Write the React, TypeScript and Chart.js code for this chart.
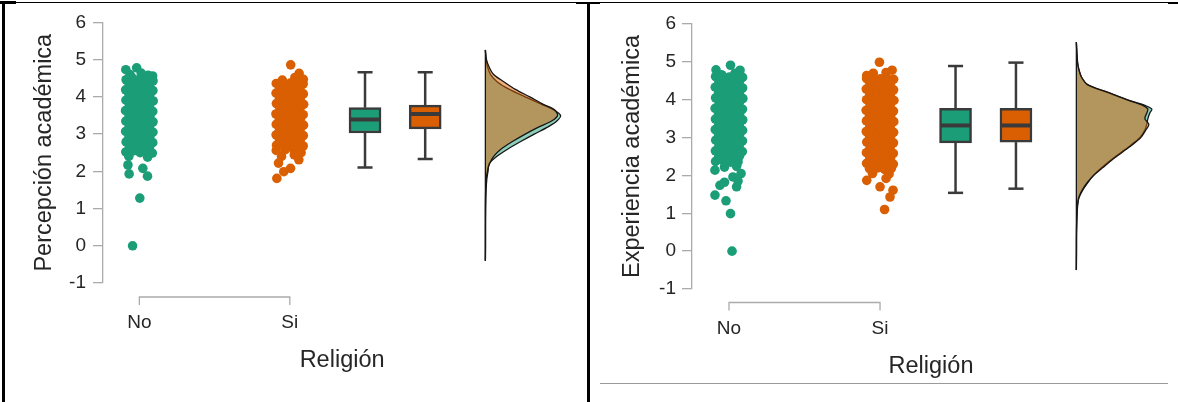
import { useEffect, useRef } from "react";
import { Chart, registerables } from "chart.js";

Chart.register(...registerables);

const FONT = "'Liberation Sans', Arial, Helvetica, sans-serif";
const GREEN = "#1B9E77";
const ORANGE = "#D95F02";
const GREEN_FILL = "rgba(27, 158, 119, 0.5)";
const ORANGE_FILL = "rgba(217, 95, 2, 0.5)";
const BOX_EDGE = "#3a3a3a";
const AXIS_GRAY = "#ababab";
const TEXT = "#262626";
const COLORS = [GREEN, ORANGE];
const FILLS = [GREEN_FILL, ORANGE_FILL];

const categories = ["No", "Si"];
const xTitle = "Religión";
const yTicks = [-1, 0, 1, 2, 3, 4, 5, 6];

// positions on the linear x axis
const STRIP_X = [1, 2];
const BOX_X = [2.5, 2.9];
const DENSITY_BASE_X = 3.3;
const DENSITY_WIDTH = 0.5;
const CAP_HALF = 0.05;
const MEDIAN_HALF = 0.096;

// ---- Percepción académica: jittered observations [jitter, value] ----
const percepcionNo: [number, number][] = [
  [-0.090, 4.73], [-0.018, 4.78], [0.012, 4.64], [0.088, 4.56], [0.058, 4.58], [-0.062, 4.60],
  [-0.088, 4.46], [-0.045, 4.50], [0.002, 4.47], [0.046, 4.44], [0.091, 4.43],
  [-0.067, 4.33], [-0.021, 4.35], [0.024, 4.31], [0.069, 4.34],
  [-0.091, 4.19], [-0.044, 4.21], [0.001, 4.18], [0.047, 4.20], [0.090, 4.17],
  [-0.069, 4.05], [-0.023, 4.07], [0.022, 4.04], [0.070, 4.06],
  [-0.089, 3.91], [-0.046, 3.93], [0.003, 3.90], [0.045, 3.92], [0.092, 3.89],
  [-0.066, 3.77], [-0.024, 3.79], [0.025, 3.76], [0.068, 3.78],
  [-0.092, 3.63], [-0.043, 3.65], [-0.001, 3.62], [0.044, 3.64], [0.089, 3.61],
  [-0.068, 3.49], [-0.020, 3.51], [0.023, 3.48], [0.071, 3.50],
  [-0.090, 3.35], [-0.047, 3.37], [0.002, 3.34], [0.046, 3.36], [0.091, 3.33],
  [-0.067, 3.21], [-0.022, 3.23], [0.026, 3.20], [0.069, 3.22],
  [-0.091, 3.07], [-0.044, 3.09], [0.000, 3.06], [0.043, 3.08], [0.090, 3.05],
  [-0.069, 2.93], [-0.021, 2.95], [0.024, 2.92], [0.070, 2.94],
  [-0.088, 2.79], [-0.046, 2.81], [0.004, 2.78], [0.047, 2.80], [0.089, 2.77],
  [-0.066, 2.65], [-0.023, 2.67], [0.022, 2.64], [0.068, 2.66],
  [-0.090, 2.52], [-0.040, 2.55], [0.005, 2.50], [0.050, 2.53], [0.086, 2.49],
  [-0.070, 2.40], [0.055, 2.38], [-0.076, 2.17], [0.023, 2.08],
  [-0.068, 1.93], [0.054, 1.87], [0.003, 1.28], [-0.045, 0.0],
];

const percepcionSi: [number, number][] = [
  [0.006, 4.86], [0.062, 4.63], [0.090, 4.47], [0.034, 4.52], [-0.050, 4.45],
  [-0.090, 4.36], [-0.044, 4.39], [0.003, 4.37], [0.046, 4.40], [0.089, 4.35],
  [-0.067, 4.24], [-0.022, 4.26], [0.024, 4.23], [0.069, 4.25],
  [-0.091, 4.10], [-0.045, 4.12], [0.001, 4.09], [0.046, 4.11], [0.090, 4.08],
  [-0.068, 3.96], [-0.021, 3.98], [0.023, 3.95], [0.070, 3.97],
  [-0.089, 3.82], [-0.046, 3.84], [0.002, 3.81], [0.044, 3.83], [0.092, 3.80],
  [-0.066, 3.68], [-0.024, 3.70], [0.025, 3.67], [0.068, 3.69],
  [-0.092, 3.54], [-0.043, 3.56], [-0.001, 3.53], [0.045, 3.55], [0.089, 3.52],
  [-0.069, 3.40], [-0.020, 3.42], [0.022, 3.39], [0.071, 3.41],
  [-0.090, 3.26], [-0.047, 3.28], [0.003, 3.25], [0.046, 3.27], [0.091, 3.24],
  [-0.067, 3.12], [-0.022, 3.14], [0.026, 3.11], [0.069, 3.13],
  [-0.091, 2.98], [-0.044, 3.00], [0.000, 2.97], [0.043, 2.99], [0.090, 2.96],
  [-0.069, 2.84], [-0.021, 2.86], [0.024, 2.83], [0.070, 2.85],
  [-0.088, 2.70], [-0.046, 2.72], [0.004, 2.69], [0.047, 2.71], [0.089, 2.68],
  [-0.090, 2.56], [-0.030, 2.58], [0.030, 2.55], [0.075, 2.50], [0.030, 2.44],
  [-0.055, 2.40], [0.060, 2.31], [-0.075, 2.22], [0.005, 2.08], [-0.040, 1.99], [-0.086, 1.81],
];

// box summaries: [lower whisker, Q1, median, Q3, upper whisker]
const percepcionBoxNo = [2.10, 3.03, 3.39, 3.71, 4.66];
const percepcionBoxSi = [2.33, 3.14, 3.54, 3.78, 4.66];

// kernel density estimates
const percepcionGrid = [-0.4, 0, 0.5, 1.0, 1.5, 1.8, 2.0, 2.2, 2.4, 2.6, 2.8, 3.0, 3.2, 3.35, 3.5, 3.65, 3.8, 4.0, 4.2, 4.4, 4.6, 4.8, 5.0, 5.26];
const percepcionDensNo = [0, 0.003, 0.003, 0.005, 0.01, 0.02, 0.035, 0.05, 0.15, 0.30, 0.47, 0.65, 0.84, 0.95, 1.0, 0.91, 0.75, 0.53, 0.32, 0.16, 0.07, 0.03, 0.01, 0];
const percepcionDensSi = [0, 0, 0, 0, 0.004, 0.013, 0.027, 0.055, 0.11, 0.21, 0.36, 0.53, 0.72, 0.88, 0.96, 0.92, 0.77, 0.59, 0.40, 0.25, 0.11, 0.05, 0.015, 0];

// ---- Experiencia académica ----
const experienciaNo: [number, number][] = [
  [-0.086, 4.79], [0.010, 4.91], [0.073, 4.78], [0.040, 4.70], [-0.050, 4.66],
  [-0.089, 4.61], [-0.044, 4.63], [0.003, 4.60], [0.046, 4.62], [0.090, 4.59],
  [-0.067, 4.47], [-0.022, 4.49], [0.024, 4.46], [0.069, 4.48],
  [-0.091, 4.33], [-0.045, 4.35], [0.001, 4.32], [0.046, 4.34], [0.090, 4.31],
  [-0.068, 4.19], [-0.021, 4.21], [0.023, 4.18], [0.070, 4.20],
  [-0.089, 4.05], [-0.046, 4.07], [0.002, 4.04], [0.044, 4.06], [0.092, 4.03],
  [-0.066, 3.91], [-0.024, 3.93], [0.025, 3.90], [0.068, 3.92],
  [-0.092, 3.77], [-0.043, 3.79], [-0.001, 3.76], [0.045, 3.78], [0.089, 3.75],
  [-0.069, 3.63], [-0.020, 3.65], [0.022, 3.62], [0.071, 3.64],
  [-0.090, 3.49], [-0.047, 3.51], [0.003, 3.48], [0.046, 3.50], [0.091, 3.47],
  [-0.067, 3.35], [-0.022, 3.37], [0.026, 3.34], [0.069, 3.36],
  [-0.091, 3.21], [-0.044, 3.23], [0.000, 3.20], [0.043, 3.22], [0.090, 3.19],
  [-0.069, 3.07], [-0.021, 3.09], [0.024, 3.06], [0.070, 3.08],
  [-0.088, 2.93], [-0.046, 2.95], [0.004, 2.92], [0.047, 2.94], [0.089, 2.91],
  [-0.066, 2.79], [-0.023, 2.81], [0.022, 2.78], [0.068, 2.80],
  [-0.090, 2.65], [-0.045, 2.67], [0.002, 2.64], [0.046, 2.66], [0.088, 2.63],
  [-0.068, 2.51], [-0.020, 2.53], [0.025, 2.50], [0.070, 2.52],
  [-0.089, 2.37], [-0.040, 2.39], [0.010, 2.35], [0.060, 2.36],
  [-0.093, 2.14], [-0.030, 2.22], [0.050, 2.24], [0.026, 1.96], [0.080, 2.05],
  [-0.060, 1.74], [0.050, 1.70], [-0.030, 1.82], [0.060, 1.85],
  [-0.093, 1.48], [-0.020, 1.33], [0.010, 0.99], [0.020, 0.0],
];

const experienciaSi: [number, number][] = [
  [-0.004, 4.99], [0.080, 4.78], [-0.088, 4.64], [0.040, 4.72], [-0.045, 4.70],
  [-0.089, 4.56], [-0.044, 4.58], [0.003, 4.55], [0.046, 4.57], [0.090, 4.54],
  [-0.067, 4.42], [-0.022, 4.44], [0.024, 4.41], [0.069, 4.43],
  [-0.091, 4.28], [-0.045, 4.30], [0.001, 4.27], [0.046, 4.29], [0.090, 4.26],
  [-0.068, 4.14], [-0.021, 4.16], [0.023, 4.13], [0.070, 4.15],
  [-0.089, 4.00], [-0.046, 4.02], [0.002, 3.99], [0.044, 4.01], [0.092, 3.98],
  [-0.066, 3.86], [-0.024, 3.88], [0.025, 3.85], [0.068, 3.87],
  [-0.092, 3.72], [-0.043, 3.74], [-0.001, 3.71], [0.045, 3.73], [0.089, 3.70],
  [-0.069, 3.58], [-0.020, 3.60], [0.022, 3.57], [0.071, 3.59],
  [-0.090, 3.44], [-0.047, 3.46], [0.003, 3.43], [0.046, 3.45], [0.091, 3.42],
  [-0.067, 3.30], [-0.022, 3.32], [0.026, 3.29], [0.069, 3.31],
  [-0.091, 3.16], [-0.044, 3.18], [0.000, 3.15], [0.043, 3.17], [0.090, 3.14],
  [-0.069, 3.02], [-0.021, 3.04], [0.024, 3.01], [0.070, 3.03],
  [-0.088, 2.88], [-0.046, 2.90], [0.004, 2.87], [0.047, 2.89], [0.089, 2.86],
  [-0.066, 2.74], [-0.023, 2.76], [0.022, 2.73], [0.068, 2.75],
  [-0.090, 2.60], [-0.045, 2.62], [0.002, 2.59], [0.046, 2.61], [0.088, 2.58],
  [-0.068, 2.46], [-0.020, 2.48], [0.025, 2.45], [0.070, 2.47],
  [-0.089, 2.32], [-0.044, 2.34], [0.003, 2.31], [0.048, 2.33], [0.088, 2.30],
  [-0.070, 2.18], [-0.015, 2.20], [0.030, 2.16], [0.075, 2.19],
  [-0.050, 2.05], [0.060, 2.04], [0.040, 1.92], [-0.088, 1.87], [0.000, 1.70],
  [0.086, 1.61], [0.066, 1.43], [0.030, 1.10],
];

const experienciaBoxNo = [1.54, 2.86, 3.32, 3.77, 4.89];
const experienciaBoxSi = [1.65, 2.88, 3.32, 3.77, 4.98];

const experienciaGrid = [-0.5, 0, 0.5, 1.0, 1.2, 1.4, 1.6, 1.8, 2.0, 2.2, 2.4, 2.6, 2.8, 3.0, 3.2, 3.35, 3.5, 3.65, 3.75, 3.85, 4.0, 4.2, 4.4, 4.6, 4.8, 5.0, 5.52];
const experienciaDensNo = [0, 0.003, 0.004, 0.011, 0.017, 0.033, 0.08, 0.147, 0.227, 0.333, 0.453, 0.587, 0.72, 0.84, 0.907, 0.933, 0.947, 0.973, 1.0, 0.907, 0.667, 0.4, 0.147, 0.067, 0.033, 0.013, 0];
const experienciaDensSi = [0, 0, 0.001, 0.007, 0.013, 0.029, 0.073, 0.14, 0.227, 0.347, 0.467, 0.6, 0.733, 0.853, 0.92, 0.96, 0.907, 0.933, 0.947, 0.88, 0.667, 0.413, 0.147, 0.067, 0.033, 0.016, 0];

type PanelSpec = {
  yTitle: string;
  strips: [number, number][][];
  boxes: number[][];
  grid: number[];
  densities: number[][];
  frame: { left: number; top: number; width: number; height: number };
  padTop: number;
  padRight: number;
  yAxisWidth: number;
  xAxisHeight: number;
  yTickPad: number;
  yTitlePad: number;
  xTickPad: number;
  xTitlePad: number;
  bracketOffset: number;
  xMin: number;
  xMax: number;
};

const panels: PanelSpec[] = [
  {
    yTitle: "Percepción académica",
    strips: [percepcionNo, percepcionSi],
    boxes: [percepcionBoxNo, percepcionBoxSi],
    grid: percepcionGrid,
    densities: [percepcionDensNo, percepcionDensSi],
    frame: { left: 5, top: 4, width: 581, height: 398 },
    padTop: 15,
    padRight: 3,
    yAxisWidth: 98,
    xAxisHeight: 119,
    yTickPad: 7,
    yTitlePad: 25,
    xTickPad: 28,
    xTitlePad: 27,
    bracketOffset: 14,
    xMin: 0.7583,
    xMax: 3.937,
  },
  {
    yTitle: "Experiencia académica",
    strips: [experienciaNo, experienciaSi],
    boxes: [experienciaBoxNo, experienciaBoxSi],
    grid: experienciaGrid,
    densities: [experienciaDensNo, experienciaDensSi],
    frame: { left: 590, top: 4, width: 588, height: 398 },
    padTop: 20,
    padRight: 8,
    yAxisWidth: 102,
    xAxisHeight: 113,
    yTickPad: 6,
    yTitlePad: 28,
    xTickPad: 28,
    xTitlePad: 21,
    bracketOffset: 13.5,
    xMin: 0.755,
    xMax: 3.92,
  },
];

// bracket-style category axis spanning the two strip positions
const bracketAxis = {
  id: "bracketAxis",
  afterDraw(chart: any, _args: any, opts: any) {
    const { ctx, chartArea, scales } = chart;
    const y = chartArea.bottom + opts.offset;
    const x1 = scales.x.getPixelForValue(STRIP_X[0]);
    const x2 = scales.x.getPixelForValue(STRIP_X[STRIP_X.length - 1]);
    ctx.save();
    ctx.strokeStyle = AXIS_GRAY;
    ctx.lineWidth = 1.3;
    ctx.beginPath();
    ctx.moveTo(x1, y + 8);
    ctx.lineTo(x1, y);
    ctx.lineTo(x2, y);
    ctx.lineTo(x2, y + 8);
    ctx.stroke();
    ctx.restore();
  },
};

function lineSeg(points: { x: number; y: number }[], width: number, order: number, color = BOX_EDGE) {
  return {
    type: "line",
    data: points,
    borderColor: color,
    borderWidth: width,
    borderCapStyle: "butt",
    pointRadius: 0,
    pointHoverRadius: 0,
    fill: false,
    tension: 0,
    order,
  };
}

function buildConfig(p: PanelSpec): any {
  const datasets: any[] = [];

  p.strips.forEach((pairs, i) => {
    datasets.push({
      type: "scatter",
      data: pairs.map(([j, v]) => ({ x: STRIP_X[i] + j, y: v })),
      pointRadius: 4.8,
      pointHoverRadius: 4.8,
      backgroundColor: COLORS[i],
      borderColor: COLORS[i],
      borderWidth: 0,
      order: 9,
    });
  });

  datasets.push({
    type: "bar",
    data: p.boxes.map((b, i) => ({ x: BOX_X[i], y: [b[1], b[3]] })),
    backgroundColor: COLORS,
    borderColor: BOX_EDGE,
    borderWidth: 2.5,
    borderSkipped: false,
    barThickness: 32,
    order: 7,
  });

  p.boxes.forEach((b, i) => {
    const x = BOX_X[i];
    datasets.push(lineSeg([{ x, y: b[0] }, { x, y: b[1] }], 2.5, 8));
    datasets.push(lineSeg([{ x, y: b[3] }, { x, y: b[4] }], 2.5, 8));
    datasets.push(lineSeg([{ x: x - CAP_HALF, y: b[0] }, { x: x + CAP_HALF, y: b[0] }], 2.5, 8));
    datasets.push(lineSeg([{ x: x - CAP_HALF, y: b[4] }, { x: x + CAP_HALF, y: b[4] }], 2.5, 8));
    datasets.push(lineSeg([{ x: x - MEDIAN_HALF, y: b[2] }, { x: x + MEDIAN_HALF, y: b[2] }], 4, 6));
  });

  p.densities.forEach((d, i) => {
    datasets.push({
      type: "line",
      data: p.grid.map((v, k) => ({ x: DENSITY_BASE_X + d[k] * DENSITY_WIDTH, y: v })),
      fill: "shape",
      backgroundColor: FILLS[i],
      borderColor: "#161616",
      borderWidth: 1.3,
      borderJoinStyle: "round",
      pointRadius: 0,
      pointHoverRadius: 0,
      tension: 0.3,
      order: 4 - i,
    });
  });

  datasets.push(
    lineSeg(
      [
        { x: DENSITY_BASE_X, y: p.grid[0] },
        { x: DENSITY_BASE_X, y: p.grid[p.grid.length - 1] },
      ],
      1.3,
      1,
      "#161616"
    )
  );

  return {
    type: "scatter",
    data: { datasets },
    plugins: [bracketAxis],
    options: {
      animation: false,
      responsive: false,
      devicePixelRatio: 1,
      events: [],
      layout: { padding: { top: p.padTop, right: p.padRight, left: 0, bottom: 0 } },
      plugins: {
        legend: { display: false },
        tooltip: { enabled: false },
        bracketAxis: { offset: p.bracketOffset },
      },
      scales: {
        x: {
          type: "linear",
          min: p.xMin,
          max: p.xMax,
          offset: false,
          afterBuildTicks: (s: any) => {
            s.ticks = STRIP_X.map((value) => ({ value }));
          },
          afterFit: (s: any) => {
            s.height = p.xAxisHeight;
          },
          ticks: {
            autoSkip: false,
            maxRotation: 0,
            padding: p.xTickPad,
            color: TEXT,
            font: { family: FONT, size: 19 },
            callback: (v: number) => categories[STRIP_X.indexOf(v)] ?? "",
          },
          grid: { display: false, drawTicks: false, offset: false },
          border: { display: false },
          title: {
            display: true,
            text: xTitle,
            color: TEXT,
            font: { family: FONT, size: 23.5 },
            padding: { top: 0, bottom: p.xTitlePad },
          },
        },
        y: {
          type: "linear",
          min: yTicks[0],
          max: yTicks[yTicks.length - 1],
          afterBuildTicks: (s: any) => {
            s.ticks = yTicks.map((value) => ({ value }));
          },
          afterFit: (s: any) => {
            s.width = p.yAxisWidth;
          },
          ticks: {
            padding: p.yTickPad,
            color: TEXT,
            font: { family: FONT, size: 19 },
            callback: (v: number) => String(v),
          },
          grid: {
            drawOnChartArea: false,
            drawTicks: true,
            tickLength: 10,
            color: AXIS_GRAY,
            lineWidth: 1.3,
          },
          border: { display: true, color: AXIS_GRAY, width: 1.3 },
          title: {
            display: true,
            text: p.yTitle,
            color: TEXT,
            font: { family: FONT, size: 23.5 },
            padding: { top: p.yTitlePad, bottom: 0 },
          },
        },
      },
    },
  };
}

function Panel({ spec }: { spec: PanelSpec }) {
  const ref = useRef<HTMLCanvasElement>(null);
  useEffect(() => {
    if (!ref.current) return;
    const chart = new Chart(ref.current, buildConfig(spec));
    return () => chart.destroy();
  }, [spec]);
  const f = spec.frame;
  return (
    <canvas
      ref={ref}
      width={f.width}
      height={f.height}
      style={{ position: "absolute", left: f.left, top: f.top, width: f.width, height: f.height }}
    />
  );
}

const rule = (left: number, top: number, width: number, height: number, color = "#000") => (
  <div style={{ position: "absolute", left, top, width, height, background: color }} />
);

export default function App() {
  return (
    <div
      style={{
        position: "fixed",
        left: 0,
        top: 0,
        width: 1178,
        height: 402,
        background: "#fff",
        overflow: "hidden",
      }}
    >
      {rule(0, 2, 1178, 1)}
      {rule(0, 1, 16, 3)}
      {rule(576, 2, 24, 2)}
      {rule(1168, 2, 10, 2)}
      {rule(2, 2, 3, 400)}
      {rule(587, 2, 3, 400)}
      <Panel spec={panels[0]} />
      <Panel spec={panels[1]} />
      {rule(600, 383, 568, 1, "#9a9a9a")}
    </div>
  );
}
